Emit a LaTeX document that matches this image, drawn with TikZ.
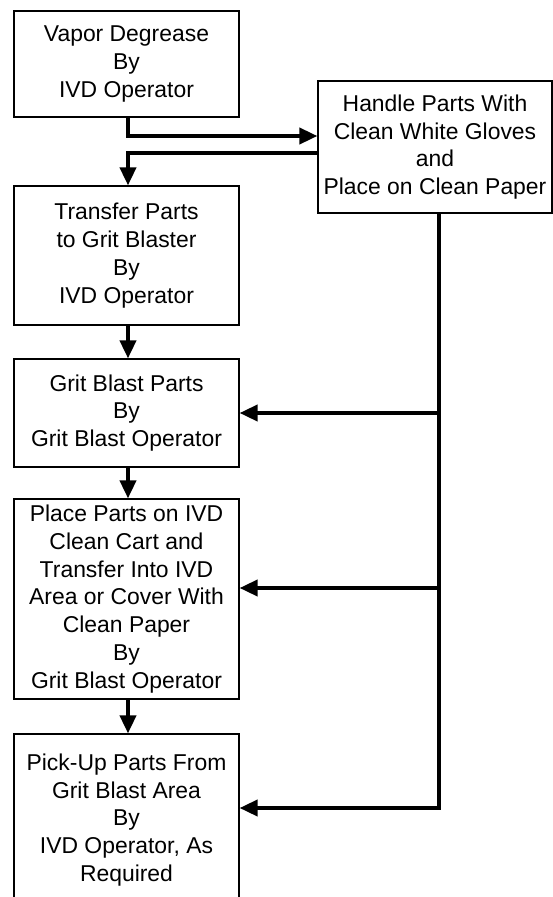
\documentclass[tikz,border=0pt]{standalone}
\usepackage{fontspec}
\setmainfont{Liberation Sans}
\usepackage{tikz}
\usetikzlibrary{arrows.meta,positioning}

\begin{document}
\begin{tikzpicture}[x=1pt, y=-1pt,
  blk/.style={draw, line width=1.2pt, minimum width=225pt, inner sep=1pt, align=center,
              font=\fontsize{22.9}{27.8}\selectfont},
  arr/.style={-{Triangle[length=18pt,width=16pt]}, line width=3.8pt}]
\useasboundingbox (0,0) rectangle (553,897);
\node[blk, minimum height=106pt] (vd) at (126.5,64) {Vapor Degrease\\By\\IVD Operator};
\node[blk, minimum width=234pt, minimum height=132pt] (hp) at (435,147) {Handle Parts With\\Clean White Gloves\\and\\Place on Clean Paper};
\node[blk, minimum height=139pt] (tr) at (126.5,255.5) {Transfer Parts\\to Grit Blaster\\By\\IVD Operator};
\node[blk, minimum height=108pt] (gb) at (126.5,413) {Grit Blast Parts\\By\\Grit Blast Operator};
\node[blk, minimum height=200pt] (pp) at (126.5,599) {Place Parts on IVD\\Clean Cart and\\Transfer Into IVD\\Area or Cover With\\Clean Paper\\By\\Grit Blast Operator};
\node[blk, minimum height=172pt] (pu) at (126.5,820) {Pick-Up Parts From\\Grit Blast Area\\By\\IVD Operator, As\\Required};
\coordinate (tk) at ([xshift=4pt]hp.south);
\coordinate (ppin) at ([yshift=11pt]pp.east);
\coordinate (puin) at ([yshift=12pt]pu.east);
\draw[arr] ([xshift=1.5pt]vd.south) |- ([yshift=11pt]hp.west);
\draw[arr] ([yshift=-6pt]hp.west) -| ([xshift=1.5pt]tr.north);
\draw[arr] ([xshift=1.5pt]tr.south) -- ([xshift=1.5pt]gb.north);
\draw[arr] ([xshift=1.5pt]gb.south) -- ([xshift=1.5pt]pp.north);
\draw[arr] ([xshift=1.5pt]pp.south) -- ([xshift=1.5pt]pu.north);
% feed from the clean paper
\draw[arr] (tk) |- (puin);
\draw[arr] (tk |- gb.east) -- (gb.east);
\draw[arr] (tk |- ppin) -- (ppin);
\end{tikzpicture}
\end{document}
